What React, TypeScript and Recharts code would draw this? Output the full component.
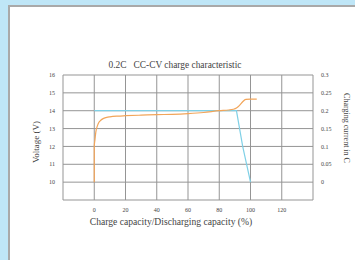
import { LineChart, Line, XAxis, YAxis, CartesianGrid, ReferenceLine } from "recharts";

const title = "0.2C   CC-CV charge characteristic";
const xLabel = "Charge capacity/Discharging capacity (%)";
const leftLabel = "Voltage (V)";
const rightLabel = "Charging current in C";

const xTicks = [-20, 0, 20, 40, 60, 80, 100, 120, 140];
const voltTicks = [9, 10, 11, 12, 13, 14, 15, 16];
const currentTicks = [-0.05, 0, 0.05, 0.1, 0.15, 0.2, 0.25, 0.3];

const voltCapacity = [0, 0, 0.5, 1, 2, 3, 4, 6, 8, 10, 15, 20, 30, 40, 50, 60, 70, 80, 86, 89, 91, 93, 95, 97, 100, 104];
const voltage = [10, 12, 12.4, 12.8, 13.15, 13.35, 13.45, 13.57, 13.63, 13.66, 13.7, 13.72, 13.75, 13.78, 13.8, 13.84, 13.9, 14.0, 14.04, 14.08, 14.15, 14.3, 14.5, 14.63, 14.65, 14.65];

const currentCapacity = [0, 91, 95, 100];
const current = [0.2, 0.2, 0.1, 0];

const voltData = voltCapacity.map((c, i) => ({ cap: c, v: voltage[i] }));
const currentData = currentCapacity.map((c, i) => ({ cap: c, a: current[i] }));

const font = '"Liberation Serif", "DejaVu Serif", serif';
const tick = { fontSize: 6, fill: "#444", fontFamily: font };
const gridColor = "#959595";

const label = (extra: React.CSSProperties): React.CSSProperties => ({
  position: "absolute",
  fontFamily: font,
  color: "#444",
  whiteSpace: "pre",
  lineHeight: 1,
  ...extra,
});

export default function App() {
  return (
    <div
      style={{
        position: "fixed",
        left: 0,
        top: 0,
        width: 355,
        height: 260,
        background: "#bfe6f7",
        overflow: "hidden",
      }}
    >
      <div
        style={{
          position: "absolute",
          left: 8,
          top: 5,
          right: 0,
          bottom: 0,
          background: "#fff",
          borderLeft: "2px solid #a9a9a9",
          borderTop: "2px solid #a9a9a9",
        }}
      />
      <div style={{ position: "absolute", left: 0, top: 0 }}>
        <LineChart
          width={355}
          height={260}
          margin={{ top: 75, right: 22, bottom: 45, left: 43 }}
        >
          <CartesianGrid stroke={gridColor} strokeWidth={1} horizontal={false} />
          {voltTicks.map((t) => (
            <ReferenceLine key={t} y={t} stroke={gridColor} strokeWidth={1} ifOverflow="extendDomain" />
          ))}
          <XAxis
            type="number"
            dataKey="cap"
            domain={[-20, 140]}
            ticks={xTicks}
            tickFormatter={(t: number) => (t < 0 || t > 120 ? "" : String(t))}
            axisLine={false}
            tickLine={false}
            tick={tick}
            height={15}
            allowDuplicatedCategory={false}
          />
          <YAxis
            type="number"
            domain={[9, 16]}
            ticks={voltTicks}
            tickFormatter={(t: number) => (t === 9 ? "" : String(t))}
            axisLine={false}
            tickLine={false}
            tick={tick}
            width={20}
          />
          <YAxis
            yAxisId="a"
            type="number"
            orientation="right"
            domain={[-0.05, 0.3]}
            ticks={currentTicks}
            tickFormatter={(t: number) => (t < 0 ? "" : String(Math.round(t * 100) / 100))}
            axisLine={false}
            tickLine={false}
            tick={{ ...tick, textAnchor: "start" }}
            width={20}
          />
          <Line
            yAxisId="a"
            data={currentData}
            dataKey="a"
            stroke="#7fd0e6"
            strokeWidth={1.2}
            dot={false}
            isAnimationActive={false}
          />
          <Line
            data={voltData}
            dataKey="v"
            type="monotone"
            stroke="#f2a55a"
            strokeWidth={1.2}
            dot={false}
            isAnimationActive={false}
          />
        </LineChart>
      </div>
      <div style={label({ left: 0, width: 350, top: 61, fontSize: 9.4, textAlign: "center" })}>{title}</div>
      <div style={label({ left: 0, width: 342, top: 217, fontSize: 9.6, textAlign: "center" })}>{xLabel}</div>
      <div
        style={label({
          left: 36,
          top: 142,
          fontSize: 9,
          transform: "translate(-50%, -50%) rotate(-90deg)",
        })}
      >
        {leftLabel}
      </div>
      <div
        style={label({
          left: 346,
          top: 128,
          fontSize: 8,
          transform: "translate(-50%, -50%) rotate(90deg)",
        })}
      >
        {rightLabel}
      </div>
    </div>
  );
}
